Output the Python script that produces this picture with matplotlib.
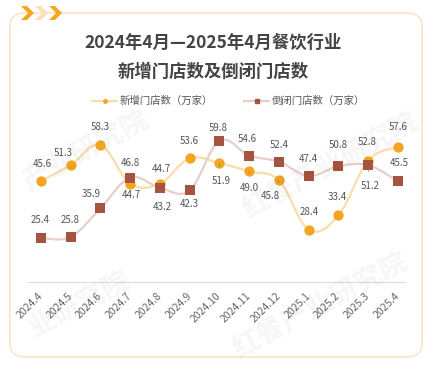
import matplotlib
matplotlib.use("Agg")
import matplotlib.pyplot as plt
from matplotlib.path import Path
from matplotlib.patches import PathPatch, FancyBboxPatch, Polygon
from matplotlib.lines import Line2D

plt.rcParams['font.family'] = ['Noto Sans CJK SC', 'DejaVu Sans']

months = ['2024.4', '2024.5', '2024.6', '2024.7', '2024.8', '2024.9', '2024.10',
          '2024.11', '2024.12', '2025.1', '2025.2', '2025.3', '2025.4']
new_stores = [45.6, 51.3, 58.3, 44.7, 44.7, 53.6, 51.9, 49.0, 45.8, 28.4, 33.4, 52.8, 57.6]
closed_stores = [25.4, 25.8, 35.9, 46.8, 43.2, 42.3, 59.8, 54.6, 52.4, 47.4, 50.8, 51.2, 45.5]
title_lines = ['2024年4月—2025年4月餐饮行业', '新增门店数及倒闭门店数']
legend_labels = ['新增门店数（万家）', '倒闭门店数（万家）']

# label offsets in pixels (dx, dy), third item = leader line
new_offsets = [(1, 17, 0), (-7, 12, 0), (0, 18, 0), (1, -11, 0), (1, 15, 0), (0, 17, 0),
               (2, -18, 1), (0, -17, 1), (-9, -16, 1), (1, 18, 0), (-1, 18, 0), (-1, 19, 0), (0, 20, 0)]
closed_offsets = [(-1, 18, 0), (-1, 17, 0), (-9, 14, 0), (0, 15, 0), (2, -19, 1), (0, -14, 0),
                  (-1, 13, 0), (-2, 17, 0), (0, 17, 0), (0, 17, 0), (0, 21, 0), (2, -21, 1), (1, 18, 0)]

ORANGE = '#F3A521'
ORANGE_LINE = '#FCDCA8'
BROWN = '#A4543F'
BROWN_LINE = '#E5CFCA'
W, H = 434, 370


def px(x, y):
    return x / W, 1 - y / H


def smooth_path(xs, ys, k=0.18):
    n = len(xs)
    verts = [(xs[0], ys[0])]
    codes = [Path.MOVETO]
    for i in range(n - 1):
        a = i - 1 if i > 0 else i
        d = i + 2 if i + 2 < n else i + 1
        c1 = (xs[i] + (xs[i + 1] - xs[a]) * k, ys[i] + (ys[i + 1] - ys[a]) * k)
        c2 = (xs[i + 1] - (xs[d] - xs[i]) * k, ys[i + 1] - (ys[d] - ys[i]) * k)
        verts += [c1, c2, (xs[i + 1], ys[i + 1])]
        codes += [Path.CURVE4] * 3
    return Path(verts, codes)


fig = plt.figure(figsize=(W / 100, H / 100), dpi=100)
fig.patch.set_facecolor('white')

# frame
box = FancyBboxPatch(px(10, 357), 412 / W, 344 / H, boxstyle='round,pad=0,rounding_size=0.035',
                     transform=fig.transFigure, fill=False, ec='#FCE4C4', lw=1.2)
fig.add_artist(box)

# chevrons top-left
def chevron(x0, color):
    w, top, bot = 13, 6, 20
    mid = (top + bot) / 2
    pts = [px(x0, top), px(x0 + 6, top), px(x0 + w, mid), px(x0 + 6, bot), px(x0, bot), px(x0 + w - 6, mid)]
    fig.add_artist(Polygon(pts, closed=True, transform=fig.transFigure, fc=color, ec='none'))

chevron(21, '#F5A623')
chevron(35, '#FBE0B8')
chevron(49, '#F5A623')

# watermarks (faint)
for (wx, wy, txt) in [(85, 150, '产业研究院'), (330, 165, '红餐产业研究院'), (320, 305, '红餐产业研究院'),
                      (80, 305, '业研究院')]:
    fig.text(*px(wx, wy), txt, fontsize=20, color='#000000', alpha=0.04, rotation=28,
             ha='center', va='center', fontweight='bold')

# titles
fig.text(*px(213, 43), title_lines[0], fontsize=12.5, fontweight='bold', color='#444444', ha='center', va='center')
fig.text(*px(213, 72), title_lines[1], fontsize=12.5, fontweight='bold', color='#444444', ha='center', va='center')

# legend
for (lx, col, lcol, mk, lab) in [(92, ORANGE, ORANGE_LINE, 'o', legend_labels[0]),
                                 (244, BROWN, BROWN_LINE, 's', legend_labels[1])]:
    x1, y1 = px(lx, 101)
    x2, _ = px(lx + 25, 101)
    fig.add_artist(Line2D([x1, x2], [y1, y1], color=lcol, lw=1.5, transform=fig.transFigure))
    fig.add_artist(Line2D([(x1 + x2) / 2], [y1], marker=mk, ms=2.5, color=col, transform=fig.transFigure))
    fig.text(*px(lx + 28, 101), lab, fontsize=7.5, color='#555555', ha='left', va='center')

# axes
ax = fig.add_axes([27 / W, 1 - 282 / H, 378 / W, 162 / H])
ax.set_facecolor('none')
x = list(range(len(months)))
ax.set_xlim(-0.47, 12.24)
ax.set_ylim(9.8, 67.2)

ax.add_patch(PathPatch(smooth_path(x, new_stores), fill=False, ec=ORANGE_LINE, lw=1.6, zorder=2))
ax.add_patch(PathPatch(smooth_path(x, closed_stores), fill=False, ec=BROWN_LINE, lw=1.6, zorder=2))
ax.scatter(x, new_stores, s=55, color=ORANGE, marker='o', zorder=4, linewidths=0)
ax.scatter(x, closed_stores, s=48, color=BROWN, marker='s', zorder=5, linewidths=0)

for vals, offs in [(new_stores, new_offsets), (closed_stores, closed_offsets)]:
    for i, v in enumerate(vals):
        dx, dy, lead = offs[i]
        ax.annotate(f'{v:.1f}', (i, v), xytext=(dx, dy), textcoords='offset pixels',
                    ha='center', va='center', fontsize=7, color='#555555', zorder=6,
                    arrowprops=dict(arrowstyle='-', color='#888888', lw=0.6, shrinkA=5, shrinkB=3) if lead else None)

for s in ['top', 'right', 'left']:
    ax.spines[s].set_visible(False)
ax.spines['bottom'].set_color('#DDDDDD')
ax.set_yticks([])
ax.set_xticks(x)
ax.set_xticklabels(months, rotation=45, ha='right', va='center', rotation_mode='anchor',
                   fontsize=7.5, color='#666666')
ax.tick_params(axis='x', length=0, pad=9)

fig.savefig('out.png', dpi=100)
